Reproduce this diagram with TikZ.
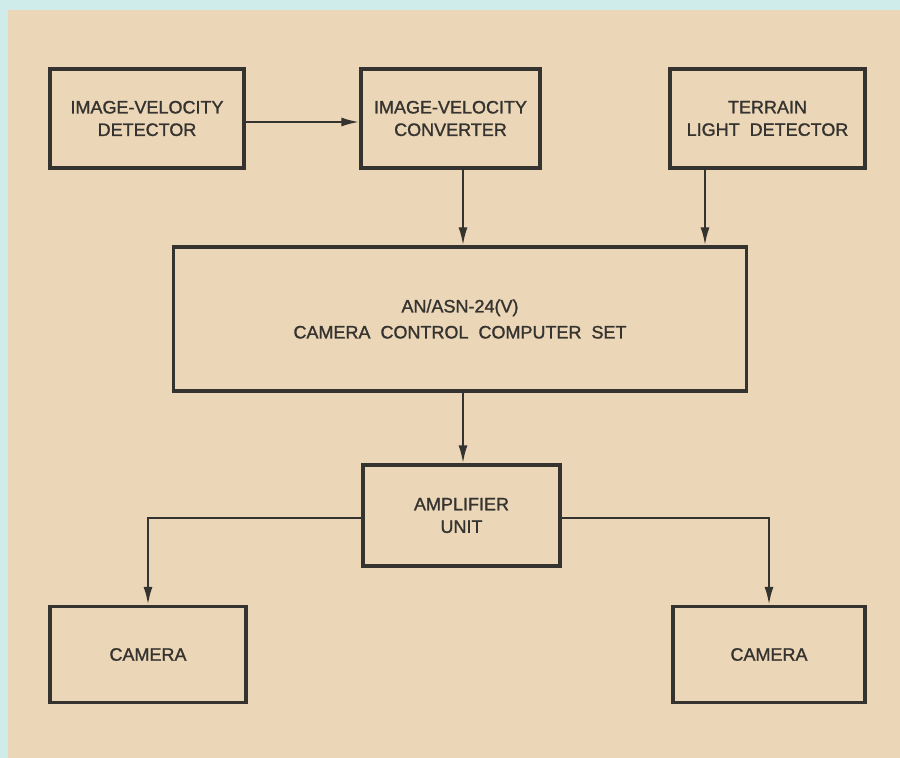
\documentclass[tikz,border=0pt]{standalone}
\usepackage{fontspec}
\setmainfont{Liberation Sans}[FakeBold=1.3]
\usetikzlibrary{arrows.meta}
\definecolor{paper}{HTML}{EBD6B8}
\definecolor{edge}{HTML}{CFEBEA}
\definecolor{ink}{HTML}{35332F}
\begin{document}
\begin{tikzpicture}[x=1pt,y=-1pt,
  blk/.style={draw=ink,line width=3.3pt,text=ink,align=center,font=\fontsize{18}{22.5}\selectfont,inner sep=0pt},
  conn/.style={draw=ink,line width=2.3pt,-{Latex[length=18pt,width=9pt]}}]
\fill[edge] (0,0) rectangle (900,758);
\fill[paper] (8,10) rectangle (900,758);
\useasboundingbox (0,0) rectangle (900,758);
\node[blk,minimum width=194pt,minimum height=99pt] (ivd) at (147,118.5) {IMAGE-VELOCITY\\DETECTOR};
\node[blk,minimum width=179pt,minimum height=99pt] (ivc) at (450.5,118.5) {IMAGE-VELOCITY\\CONVERTER};
\node[blk,minimum width=195pt,minimum height=99pt] (tld) at (767.5,118.5) {TERRAIN\\LIGHT\ \ DETECTOR};
\node[blk,minimum width=573pt,minimum height=144pt,font=\fontsize{18}{26}\selectfont] (ccs) at (460,319) {AN/ASN-24(V)\\CAMERA\ \ CONTROL\ \ COMPUTER\ \ SET};
\node[blk,minimum width=197pt,minimum height=101pt] (amp) at (461.5,515.5) {AMPLIFIER\\UNIT};
\node[blk,minimum width=196pt,minimum height=96pt] (cam1) at (148,654.5) {CAMERA};
\node[blk,minimum width=192pt,minimum height=96pt] (cam2) at (769,654.5) {CAMERA};
\draw[conn] (ivd.east |- 0,122) -- (ivc.west |- 0,122);
\draw[conn] (463,0 |- ivc.south) -- (463,0 |- ccs.north);
\draw[conn] (705,0 |- tld.south) -- (705,0 |- ccs.north);
\draw[conn] (463,0 |- ccs.south) -- (463,0 |- amp.north);
\draw[conn] (amp.west |- 0,518) -| (cam1.north);
\draw[conn] (amp.east |- 0,518) -| (cam2.north);
\end{tikzpicture}
\end{document}
